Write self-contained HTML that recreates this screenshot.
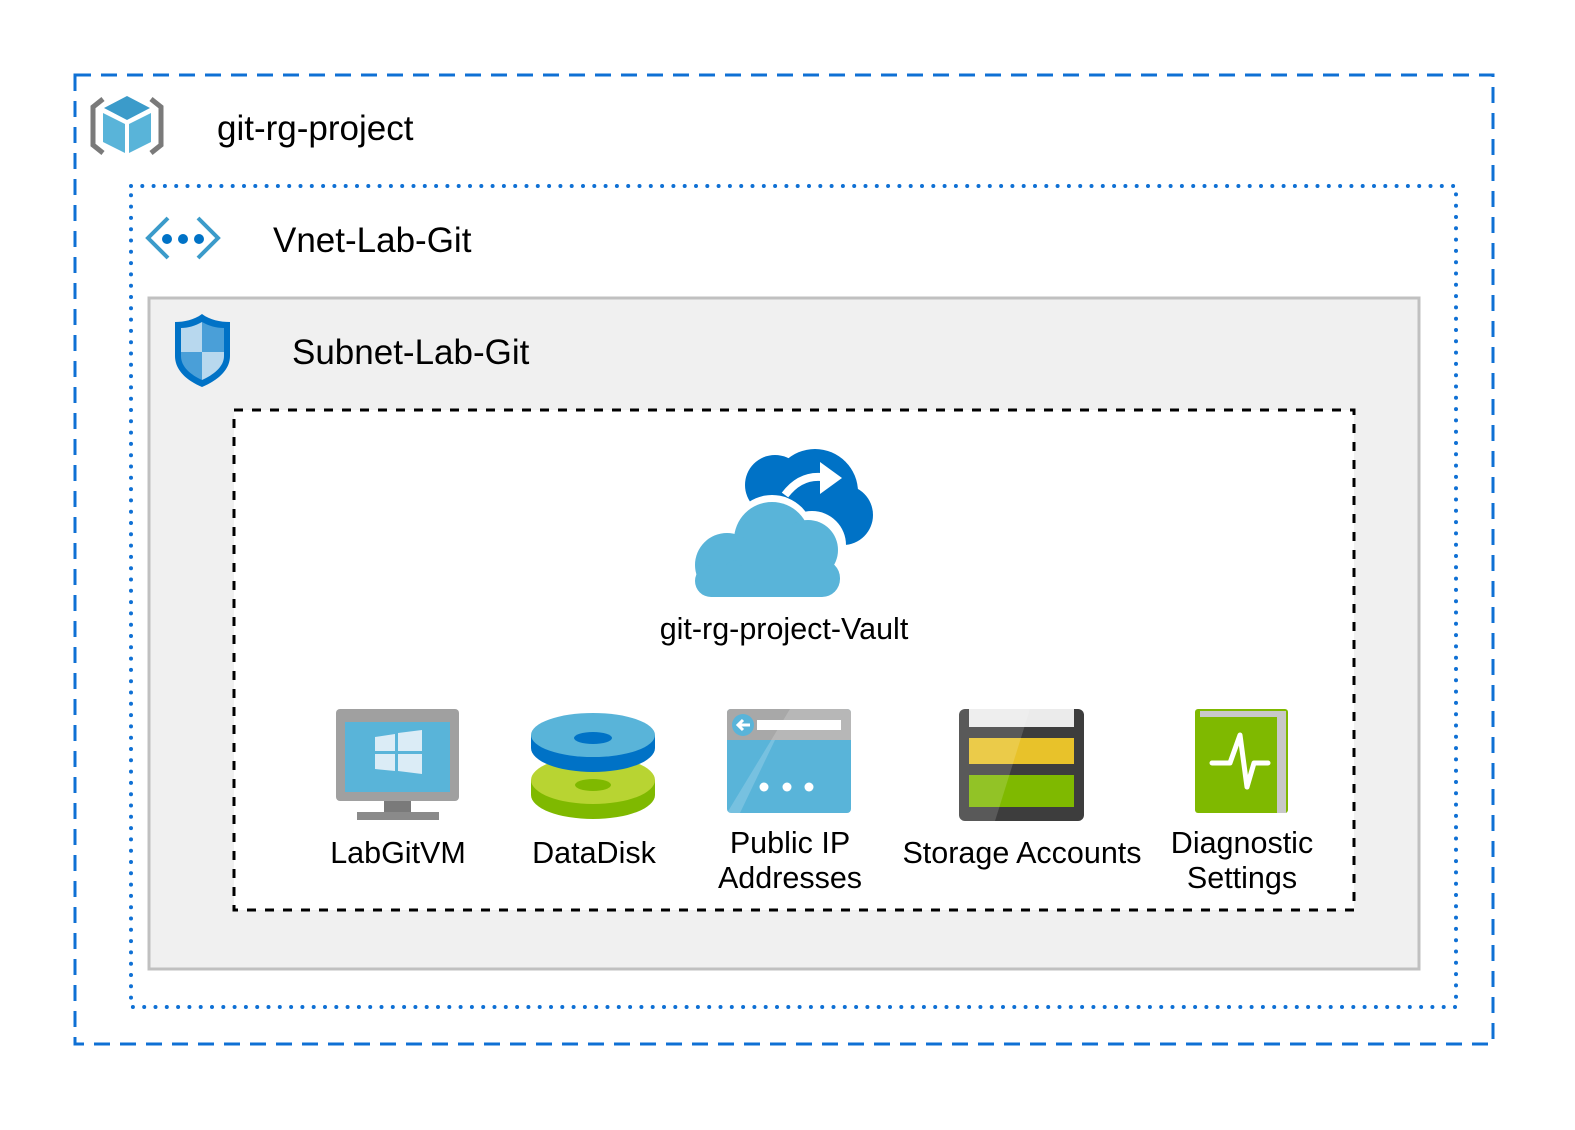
<!DOCTYPE html>
<html><head><style>
body{margin:0;background:#fff}
svg text{font-family:"Liberation Sans",sans-serif;fill:#000}
</style></head><body>
<svg width="1575" height="1125" viewBox="0 0 1575 1125" xmlns="http://www.w3.org/2000/svg">
<rect x="75" y="75" width="1418" height="969" fill="#fff" stroke="#0f70d4" stroke-width="3" stroke-dasharray="16 10"/>
<rect x="131" y="186" width="1325" height="821" fill="#fff" stroke="#0f70d4" stroke-width="4" stroke-dasharray="0 11.3" stroke-linecap="round"/>
<rect x="149" y="298" width="1270" height="671" fill="#f0f0f0" stroke="#c0c0c0" stroke-width="3"/>
<rect x="234" y="410" width="1120" height="500" fill="#fff" stroke="#000" stroke-width="3" stroke-dasharray="9 9"/>

<g>
<path d="M103 99 L93 107 L93 145 L103 153" fill="none" stroke="#7a7a7a" stroke-width="5"/>
<path d="M151 99 L161 107 L161 145 L151 153" fill="none" stroke="#7a7a7a" stroke-width="5"/>
<polygon points="127,96 150,108 127,120 104,108" fill="#3b9bca"/>
<polygon points="103,113 125,124 125,153 103,142" fill="#59b4d9"/>
<polygon points="129,124 151,113 151,142 129,153" fill="#59b4d9"/>
</g>
<text x="217" y="140" font-size="35">git-rg-project</text>

<path d="M168 218 L148 238 L168 258 M198 218 L218 238 L198 258" fill="none" stroke="#3b9bca" stroke-width="4"/>
<circle cx="167" cy="239" r="5" fill="#0072c6"/><circle cx="183" cy="239" r="5" fill="#0072c6"/><circle cx="199" cy="239" r="5" fill="#0072c6"/>
<text x="273" y="252" font-size="35">Vnet-Lab-Git</text>

<path d="M202 314 C194 320 184 322 175 322 L175 356 C175 372 190 382 202 387 C214 382 230 372 230 356 L230 322 C220 322 210 320 202 314Z" fill="#0072c6"/>
<path d="M202 322 C195 326 188 328 181 328 L181 352 L202 352Z" fill="#b8d8ee"/>
<path d="M202 322 C209 326 216 328 224 328 L224 352 L202 352Z" fill="#4a9fd8"/>
<path d="M181 352 L202 352 L202 380 C191 375 181 367 181 356Z" fill="#4a9fd8"/>
<path d="M202 352 L224 352 L224 356 C224 367 213 375 202 380Z" fill="#b8d8ee"/>
<text x="292" y="364" font-size="35">Subnet-Lab-Git</text>

<!-- vault cloud -->
<circle cx="815" cy="492" r="43" fill="#0072c6"/>
<circle cx="843" cy="515" r="30" fill="#0072c6"/>
<circle cx="775" cy="485" r="30" fill="#0072c6"/>
<rect x="760" y="485" width="85" height="50" fill="#0072c6"/>
<path d="M785 495 Q800 475 822 477" fill="none" stroke="#fff" stroke-width="8"/>
<polygon points="820,462 842,478 820,494" fill="#fff"/>
<circle cx="772" cy="537" r="42" fill="#fff"/>
<circle cx="812" cy="545" r="34" fill="#fff"/>
<circle cx="772" cy="540" r="38" fill="#59b4d9"/>
<circle cx="808" cy="550" r="30" fill="#59b4d9"/>
<circle cx="727" cy="565" r="32" fill="#59b4d9"/>
<rect x="720" y="560" width="120" height="37" rx="18" fill="#59b4d9"/>
<rect x="695" y="565" width="60" height="32" rx="16" fill="#59b4d9"/>
<text x="784" y="639" font-size="30.5" text-anchor="middle">git-rg-project-Vault</text>

<!-- VM -->
<rect x="336" y="709" width="123" height="92" rx="4" fill="#a0a0a0"/>
<rect x="345" y="722" width="105" height="70" fill="#59b4d9"/>
<path d="M375 737 L395 734 L395 751 L375 751Z M398 733 L422 730 L422 751 L398 751Z M375 754 L395 754 L395 771 L375 769Z M398 754 L422 754 L422 774 L398 771Z" fill="#dbecf6"/>
<rect x="384" y="801" width="27" height="12" fill="#7a7a7a"/>
<rect x="357" y="812" width="82" height="8" fill="#8a8a8a"/>
<text x="398" y="863" font-size="30.5" text-anchor="middle">LabGitVM</text>

<!-- Disk -->
<ellipse cx="593" cy="795" rx="62" ry="24" fill="#7fb900"/>
<rect x="531" y="780" width="124" height="15" fill="#7fb900"/>
<ellipse cx="593" cy="780" rx="62" ry="24" fill="#b8d432"/>
<ellipse cx="593" cy="785" rx="18" ry="6" fill="#7fb900"/>
<ellipse cx="593" cy="748" rx="62" ry="24" fill="#0072c6"/>
<rect x="531" y="735" width="124" height="13" fill="#0072c6"/>
<ellipse cx="593" cy="735" rx="62" ry="22" fill="#59b4d9"/>
<ellipse cx="593" cy="738" rx="19" ry="6" fill="#0072c6"/>
<text x="594" y="863" font-size="30.5" text-anchor="middle">DataDisk</text>

<!-- Public IP -->
<rect x="727" y="709" width="124" height="104" rx="4" fill="#59b4d9"/>
<path d="M727 713 Q727 709 731 709 L847 709 Q851 709 851 713 L851 740 L727 740Z" fill="#a8a8a8"/>
<polygon points="740,813 775,740 851,740 851,709 790,709 727,813" fill="#fff" opacity="0.18"/>
<circle cx="743" cy="725" r="11" fill="#59b4d9"/>
<path d="M750 725 L738 725 M743 720 L738 725 L743 730" stroke="#fff" stroke-width="3" fill="none"/>
<rect x="757" y="720" width="84" height="10" fill="#fff"/>
<circle cx="764" cy="787" r="4.5" fill="#fff"/><circle cx="787" cy="787" r="4.5" fill="#fff"/><circle cx="809" cy="787" r="4.5" fill="#fff"/>
<text x="790" y="853" font-size="30.5" text-anchor="middle">Public IP</text>
<text x="790" y="888" font-size="30.5" text-anchor="middle">Addresses</text>

<!-- Storage -->
<rect x="959" y="709" width="125" height="112" rx="6" fill="#3d3d3d"/>
<rect x="969" y="709" width="105" height="18" fill="#ebebeb"/>
<rect x="969" y="738" width="105" height="26" fill="#e8c22a"/>
<rect x="969" y="775" width="105" height="32" fill="#7fb900"/>
<polygon points="959,709 1030,709 995,821 959,821" fill="#fff" opacity="0.15"/>
<text x="1022" y="863" font-size="30.5" text-anchor="middle">Storage Accounts</text>

<!-- Diagnostic -->
<rect x="1195" y="709" width="93" height="104" rx="3" fill="#7fb900"/>
<rect x="1277" y="716" width="9" height="97" fill="#c8c8c8"/>
<rect x="1200" y="711" width="86" height="6" fill="#c8c8c8"/>
<path d="M1212 763 L1230 763 L1240 735 L1247 787 L1254 763 L1268 763" fill="none" stroke="#fff" stroke-width="5" stroke-linejoin="round" stroke-linecap="round"/>
<text x="1242" y="853" font-size="30.5" text-anchor="middle">Diagnostic</text>
<text x="1242" y="888" font-size="30.5" text-anchor="middle">Settings</text>
</svg>
</body></html>
